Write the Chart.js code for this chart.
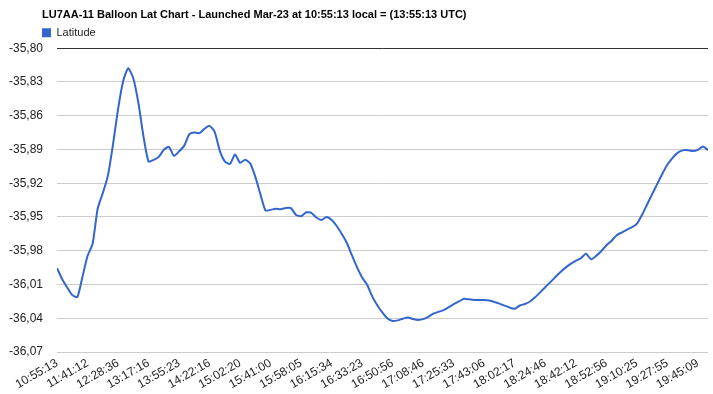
<!DOCTYPE html>
<html lang="en">
<head>
  <meta charset="utf-8" />
  <title>LU7AA-11 Balloon Lat Chart</title>
  <script src="https://cdn.jsdelivr.net/npm/chart.js"></script>
  <style>
    body { margin: 0; background: #fff; }
    #wrap { width: 713px; height: 394px; }
  </style>
</head>
<body>
  <div id="wrap"><canvas id="latChart"></canvas></div>

  <script>
    // time labels shown under the axis, one every `tickEvery` samples
    const tickLabels = [
      '10:55:13', '11:41:12', '12:28:36', '13:17:16', '13:55:23', '14:22:16',
      '15:02:20', '15:41:00', '15:58:05', '16:15:34', '16:33:23', '16:50:56',
      '17:08:46', '17:25:33', '17:43:06', '18:02:17', '18:24:46', '18:42:12',
      '18:52:56', '19:10:25', '19:27:55', '19:45:09'
    ];
    const tickEvery = 6;

    const yTicks = [-36.07, -36.04, -36.01, -35.98, -35.95, -35.92, -35.89, -35.86, -35.83, -35.80];

    const latitude = [
      -35.9954, -36.0051, -36.0126, -36.0194, -36.0212, -36.0034, -35.9847, -35.9738, -35.9425, -35.9289,
      -35.9135, -35.8859, -35.8543, -35.8294, -35.8178, -35.8267, -35.8485, -35.8783, -35.9007, -35.8992,
      -35.8966, -35.8903, -35.8877, -35.8957, -35.8917, -35.8868, -35.8765, -35.8749, -35.8755, -35.8716,
      -35.8690, -35.8743, -35.8910, -35.9006, -35.9028, -35.8945, -35.9019, -35.8991, -35.9024, -35.9144,
      -35.9299, -35.9442, -35.9437, -35.9426, -35.9431, -35.9420, -35.9421, -35.9482, -35.9493, -35.9458,
      -35.9464, -35.9505, -35.9526, -35.9500, -35.9526, -35.9580, -35.9651, -35.9731, -35.9842, -35.9948,
      -36.0038, -36.0105, -36.0208, -36.0286, -36.0350, -36.0403, -36.0425, -36.0419, -36.0404, -36.0394,
      -36.0407, -36.0415, -36.0408, -36.0387, -36.0359, -36.0343, -36.0328, -36.0302, -36.0275, -36.0251,
      -36.0227, -36.0232, -36.0238, -36.0238, -36.0238, -36.0243, -36.0255, -36.0270, -36.0288, -36.0305,
      -36.0315, -36.0287, -36.0273, -36.0251, -36.0214, -36.0170, -36.0124, -36.0079, -36.0034, -35.9989,
      -35.9950, -35.9917, -35.9890, -35.9867, -35.9827, -35.9876, -35.9846, -35.9805, -35.9753, -35.9713,
      -35.9664, -35.9638, -35.9614, -35.9593, -35.9562, -35.9484, -35.9391, -35.9299, -35.9208, -35.9118,
      -35.9036, -35.8977, -35.8930, -35.8908, -35.8906, -35.8914, -35.8903, -35.8874, -35.8906
    ];

    const sans = "'Liberation Sans', Arial, sans-serif";

    // title and legend start a bit left of the plot, not at the canvas edge
    const headerShift = {
      id: 'headerShift',
      afterLayout(chart) {
        chart.titleBlock.left = 42;
        chart.legend.left = 42;
      }
    };

    const ctx = document.getElementById('latChart').getContext('2d');
    const latChart = new Chart(ctx, {
      type: 'line',
      data: {
        labels: latitude.map((_, i) => i),
        datasets: [{
          label: 'Latitude',
          data: latitude,
          borderColor: '#3366cc',
          backgroundColor: '#3366cc',
          borderWidth: 2,
          pointRadius: 0,
          tension: 0.2,
          fill: false
        }]
      },
      plugins: [headerShift],
      options: {
        responsive: true,
        maintainAspectRatio: false,
        animation: false,
        layout: { padding: { left: 0, right: 5, top: 0, bottom: 0 } },
        plugins: {
          title: {
            display: true,
            text: 'LU7AA-11 Balloon Lat Chart - Launched Mar-23 at 10:55:13 local = (13:55:13 UTC)',
            align: 'start',
            color: '#000',
            font: { family: sans, size: 11, weight: 'bold' },
            padding: { top: 8, bottom: 6 }
          },
          legend: {
            align: 'start',
            labels: {
              color: '#222',
              font: { family: sans, size: 11 },
              boxWidth: 9,
              boxHeight: 9,
              padding: 0,
              generateLabels(chart) {
                const items = Chart.defaults.plugins.legend.labels.generateLabels(chart);
                items.forEach(it => { it.lineWidth = 0; });
                return items;
              }
            }
          },
          tooltip: { enabled: false }
        },
        scales: {
          x: {
            type: 'linear',
            min: 0,
            max: latitude.length - 1,
            afterBuildTicks(scale) {
              scale.ticks = tickLabels.map((_, i) => ({ value: i * tickEvery }));
            },
            afterFit(scale) { scale.height = 42; },
            grid: { display: false, drawTicks: false },
            border: { display: false },
            ticks: {
              autoSkip: false,
              minRotation: 30,
              maxRotation: 30,
              padding: 4,
              color: '#222',
              font: { family: sans, size: 12 },
              callback: (v, i) => tickLabels[i]
            }
          },
          y: {
            min: -36.07,
            max: -35.80,
            afterBuildTicks(scale) {
              scale.ticks = yTicks.map(v => ({ value: v }));
            },
            afterFit(scale) { scale.width = 57; },
            grid: {
              drawTicks: false,
              color: c => (c.tick && c.tick.value === -35.80 ? '#333333' : '#cccccc')
            },
            border: { display: false },
            ticks: {
              padding: 14,
              color: '#222',
              font: { family: sans, size: 12 },
              callback: v => v.toFixed(2).replace('.', ',')
            }
          }
        }
      }
    });
  </script>
</body>
</html>
